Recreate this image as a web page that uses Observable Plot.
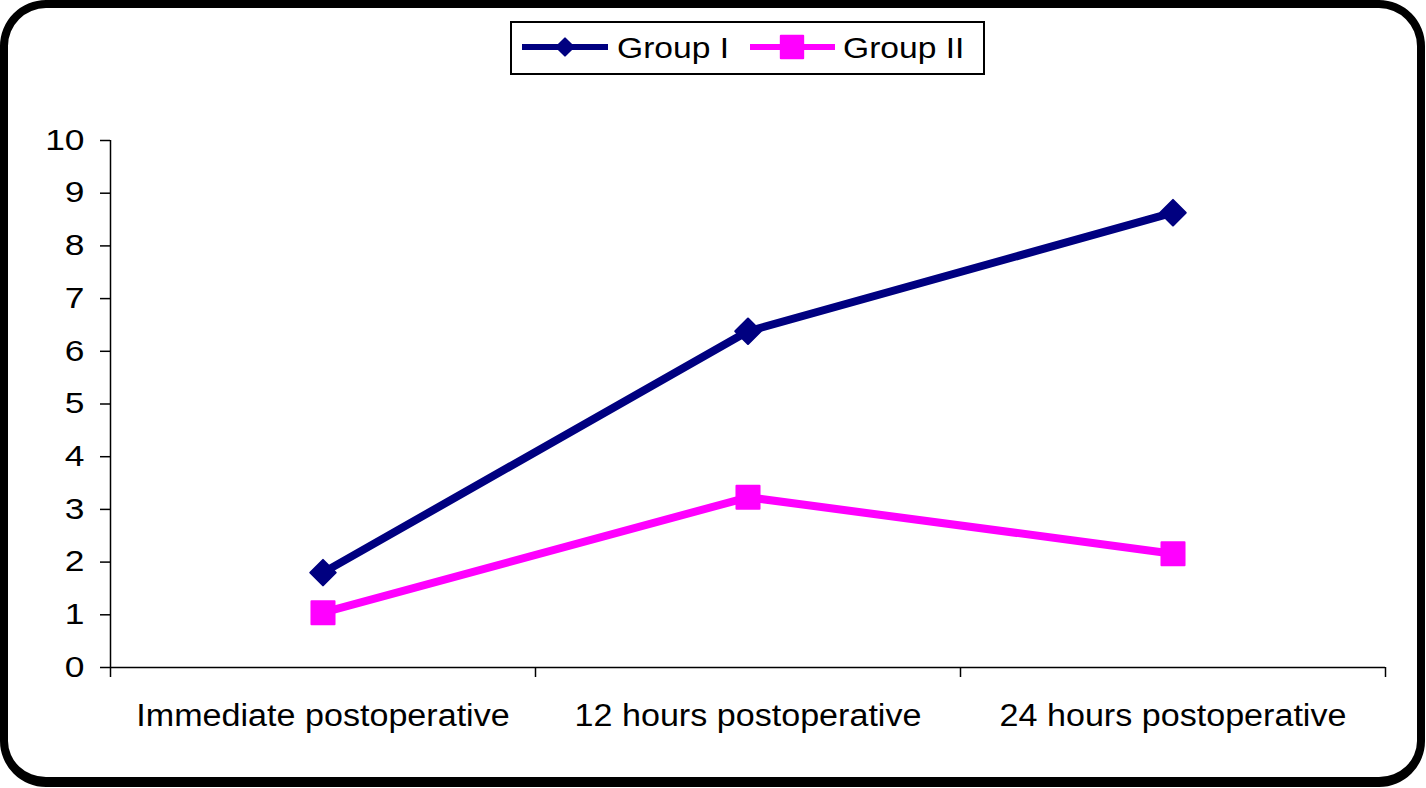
<!DOCTYPE html>
<html><head><meta charset="utf-8">
<script src="https://cdn.jsdelivr.net/npm/d3@7"></script>
<script src="https://cdn.jsdelivr.net/npm/@observablehq/plot@0.6"></script>
<style>
body{margin:0;background:#fff;}
#wrap{position:relative;width:1426px;height:788px;overflow:hidden;font-family:"Liberation Sans",Arial,sans-serif;background:#fff;}
#chart{position:absolute;left:0;top:0;}
#frame{position:absolute;left:0;top:0;width:1425px;height:787px;box-sizing:border-box;border:8px solid #000;border-bottom-width:10px;border-radius:46px;pointer-events:none;}
#legend{position:absolute;left:510px;top:21px;width:475px;height:54px;box-sizing:border-box;border:2px solid #000;background:#fff;}
#legend svg{position:absolute;left:0;top:0;}
</style></head><body>
<div id="wrap"><div id="chart"></div><div id="legend"></div><div id="frame"></div></div>
<script>
const categories = ["Immediate postoperative", "12 hours postoperative", "24 hours postoperative"];
const groupI = [1.8, 6.38, 8.63];
const groupII = [1.04, 3.23, 2.16];
const yTicks = [0, 1, 2, 3, 4, 5, 6, 7, 8, 9, 10];
const seriesNames = ["Group I", "Group II"];
const seriesColors = ["#000080", "#FF00FF"];
const seriesSymbols = ["diamond2", "square"];

const rows = [];
categories.forEach((c, i) => {
  rows.push({i, series: seriesNames[0], value: groupI[i]});
  rows.push({i, series: seriesNames[1], value: groupII[i]});
});
const centers = categories.map((c, i) => i);
const bounds = d3.range(categories.length + 1).map(i => i - 0.5);

const plot = Plot.plot({
  width: 1426, height: 788,
  marginLeft: 110, marginRight: 41, marginTop: 140, marginBottom: 121,
  style: {fontFamily: "'Liberation Sans', Arial, sans-serif", fontSize: "30px", color: "#000", background: "transparent", overflow: "visible"},
  x: {type: "linear", domain: [-0.5, categories.length - 0.5]},
  y: {domain: [0, 10]},
  color: {domain: seriesNames, range: seriesColors},
  symbol: {domain: seriesNames, range: seriesSymbols},
  marks: [
    Plot.axisY({ticks: yTicks, tickSize: 10, tickPadding: 16, tickFormat: d => String(d), label: null, strokeWidth: 1.5, fontSize: 29}),
    Plot.axisX({ticks: centers, tickSize: 0, tickPadding: 36, tickFormat: i => categories[i], label: null, fontSize: 31}),
    Plot.axisX({ticks: bounds, tickSize: 10, tickFormat: () => "", label: null, strokeWidth: 1.5}),
    Plot.ruleX([-0.5], {stroke: "#000", strokeWidth: 1.5}),
    Plot.ruleY([0], {stroke: "#000", strokeWidth: 1.5}),
    Plot.line(rows, {x: "i", y: "value", z: "series", stroke: "series", strokeWidth: 8}),
    Plot.dot(rows.filter(d => d.series === seriesNames[0]), {x: "i", y: "value", fill: "series", stroke: "series", symbol: "series", r: 11.5, strokeWidth: 2, strokeLinejoin: "round"}),
    Plot.dot(rows.filter(d => d.series === seriesNames[1]), {x: "i", y: "value", fill: "series", stroke: "series", symbol: "series", r: 13, strokeWidth: 2, strokeLinejoin: "round"})
  ]
});
document.getElementById("chart").appendChild(plot);

// legend
const lg = d3.select("#legend").append("svg").attr("width", 471).attr("height", 50);
const legendItems = [
  {name: seriesNames[0], color: seriesColors[0], x0: 10, x1: 96, cx: 53, tx: 105, sym: d3.symbolDiamond2, size: 190},
  {name: seriesNames[1], color: seriesColors[1], x0: 238, x1: 323, cx: 280, tx: 331, sym: d3.symbolSquare, size: 500}
];
legendItems.forEach(it => {
  lg.append("line").attr("x1", it.x0).attr("x2", it.x1).attr("y1", 24).attr("y2", 24)
    .attr("stroke", it.color).attr("stroke-width", 6);
  lg.append("path").attr("d", d3.symbol(it.sym, it.size)()).attr("transform", `translate(${it.cx},24)`)
    .attr("fill", it.color).attr("stroke", it.color).attr("stroke-width", 2).attr("stroke-linejoin", "round");
  lg.append("text").attr("class", "legtext").attr("x", it.tx).attr("y", 35).attr("font-size", 30)
    .attr("font-family", "'Liberation Sans', Arial, sans-serif").attr("fill", "#000").text(it.name);
});

// horizontal stretch of text to match the reference's proportions
function stretch(sel, k) {
  document.querySelectorAll(sel).forEach(t => {
    if (!t.textContent) return;
    const len = t.getComputedTextLength();
    if (len > 0) {
      t.setAttribute("textLength", len * k);
      t.setAttribute("lengthAdjust", "spacingAndGlyphs");
    }
  });
}
stretch('#chart g[aria-label="y-axis tick label"] text', 1.22);
stretch('#chart g[aria-label="x-axis tick label"] text', 1.1);
stretch('#legend text', 1.12);
</script>
</body></html>
